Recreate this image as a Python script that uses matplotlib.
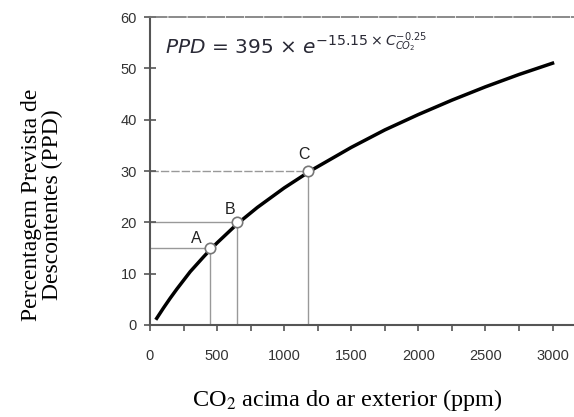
import numpy as np
import matplotlib
matplotlib.use('Agg')
import matplotlib.pyplot as plt
from matplotlib.ticker import MultipleLocator

# curva PPD
co2 = [50, 100, 150, 200, 300, 400, 450, 500, 650, 800, 1000, 1200, 1500,
       1750, 2000, 2250, 2500, 2750, 3000]
ppd = [1.3, 3.3, 5.2, 7.0, 10.4, 13.3, 14.7, 16.0, 19.7, 22.9, 26.7, 30.1,
       34.6, 38.0, 41.0, 43.8, 46.4, 48.8, 51.0]

# pontos marcados
pt_names = ['A', 'B', 'C']
pt_x = [450, 650, 1180]
pt_y = [15, 20, 30]

fig = plt.figure(figsize=(5.74, 4.17), dpi=100)
ax = fig.add_axes([150/574, 1-325/417, 1-150/574, (325-17)/417])

ax.set_xlim(0, 3160)
ax.set_ylim(0, 60)

# linhas de referencia
styles = ['-', '-', (0, (6, 1.5))]
for x, y, ls in zip(pt_x, pt_y, styles):
    ax.plot([0, x], [y, y], color='#999999', lw=1.0, ls=ls, zorder=1)
    ax.plot([x, x], [0, y], color='#999999', lw=1.0, zorder=1)

ax.plot(co2, ppd, color='black', lw=2.5, zorder=2)
ax.plot(pt_x, pt_y, 'o', ms=7.5, mfc='white', mec='#777777', mew=1.2, zorder=3)

offsets = [(-14, 10), (-7, 13), (-4, 17)]
for name, x, y, off in zip(pt_names, pt_x, pt_y, offsets):
    ax.annotate(name, (x, y), xytext=off, textcoords='offset pixels',
                ha='center', va='center', fontsize=11.5, color='#222222',
                family='Liberation Sans')

ax.text(0.035, 0.91,
        r'$PPD$ = 395 × $e^{-15.15 \times C_{CO_2}^{-0.25}}$',
        transform=ax.transAxes, fontsize=14.5, color='#2a2a36',
        va='center', ha='left', math_fontfamily='dejavusans')

ax.spines['right'].set_visible(False)
ax.spines['top'].set_color('#777777')
ax.spines['top'].set_linewidth(1.2)
ax.spines['top'].set_linestyle((0, (10, 1.5)))
ax.spines['left'].set_color('#555555')
ax.spines['bottom'].set_color('#555555')
ax.spines['left'].set_linewidth(1.5)
ax.spines['bottom'].set_linewidth(1.5)

ax.xaxis.set_minor_locator(MultipleLocator(250))
ax.set_xticks([0, 500, 1000, 1500, 2000, 2500, 3000])
ax.yaxis.set_major_locator(MultipleLocator(10))
ax.tick_params(axis='x', which='both', direction='out', length=4,
               width=1.2, color='#555555', pad=13, labelsize=10.5,
               labelcolor='#333333')
ax.tick_params(axis='y', direction='inout', length=9, width=1.2,
               color='#555555', pad=5, labelsize=10.5, labelcolor='#333333')
for lab in ax.get_xticklabels() + ax.get_yticklabels():
    lab.set_family('Liberation Sans')

fig.text(347/574, 1-400/417, r'CO$_2$ acima do ar exterior (ppm)',
         ha='center', va='center', fontsize=17.5, family='Liberation Serif',
         math_fontfamily='stix')
fig.text(42/574, 1-205/417, 'Percentagem Prevista de\nDescontentes (PPD)',
         ha='center', va='center', rotation=90, fontsize=17,
         family='Liberation Serif', linespacing=1.05)

fig.savefig('out.png', dpi=100)
